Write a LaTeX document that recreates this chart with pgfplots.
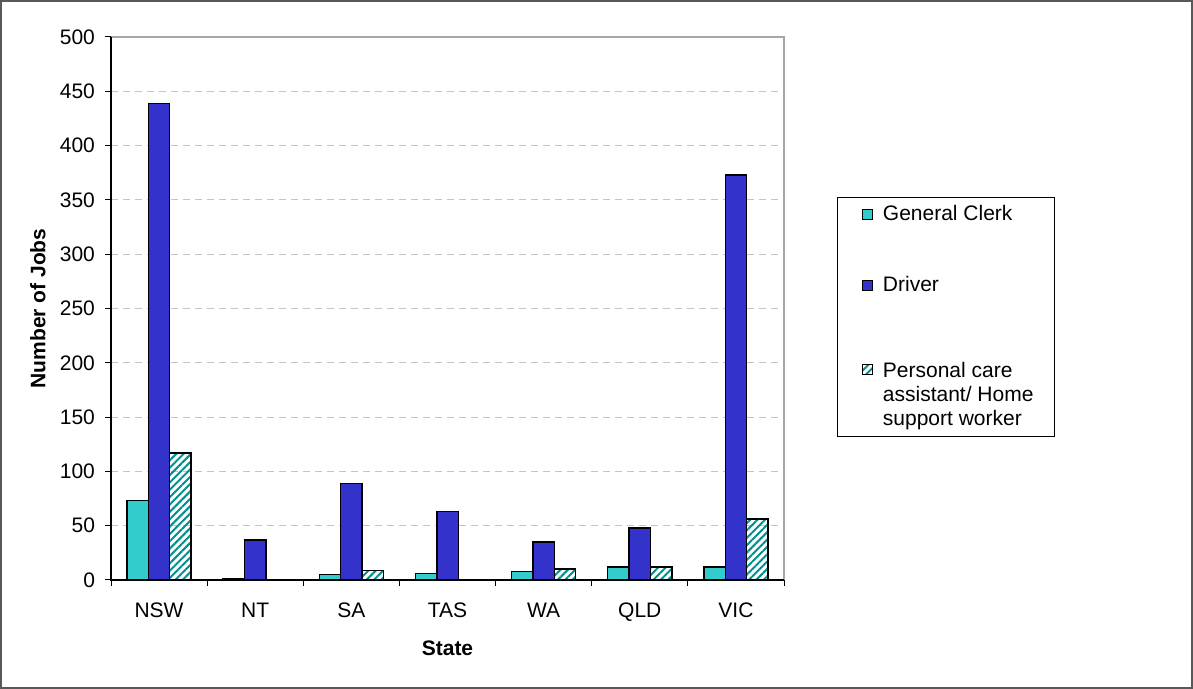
\documentclass[border=0pt]{standalone}
\usepackage{pgfplots}
\pgfplotsset{compat=1.18}
\usepackage{fontspec}
\setmainfont{Liberation Sans}
\usetikzlibrary{patterns.meta}

\definecolor{clerk}{HTML}{33CCCC}
\definecolor{driver}{HTML}{3333CC}
\definecolor{hatch}{HTML}{008F8F}
\definecolor{gridgray}{HTML}{C4C4C4}

% square marker lifted to the first line of a three-line entry
\pgfplotsset{pca legend/.style={legend image code/.code={
    \path (-3.5pt,-11.6pt) (5pt,11.6pt);
    \draw[##1, line width=0.5pt] (0pt,6.6pt) rectangle (5pt,11.6pt);}}}

\begin{document}
\begin{tikzpicture}
\useasboundingbox (0,0) rectangle (596.5pt,344.5pt);
\draw[line width=1pt, gray!70!black] (0.5pt,0.5pt) rectangle (596pt,344pt);
\begin{axis}[
    at={(55.5pt,54.5pt)}, anchor=south west,
    scale only axis,
    width=336.5pt, height=271.5pt,
    ybar=0pt,
    bar width=10.7pt,
    xmin=-0.5, xmax=6.5,
    ymin=0, ymax=500,
    ytick distance=50,
    xtick={0,...,6},
    xticklabels={NSW, NT, SA, TAS, WA, QLD, VIC},
    minor xtick={-0.5,0.5,...,6.5},
    xtick pos=lower, ytick pos=left,
    major x tick style={draw=none},
    tick align=outside,
    major tick length=3pt,
    minor tick length=3pt,
    tick style={black, line width=0.5pt},
    axis line style={draw=none},
    ymajorgrids=true,
    grid style={gridgray, line width=0.5pt, dash pattern=on 3.5pt off 2.5pt},
    /pgf/number format/assume math mode=true,
    tick label style={font=\fontsize{10.5}{13}\selectfont},
    xticklabel style={yshift=-5pt},
    yticklabel style={xshift=-1.5pt},
    ylabel={\textbf{Number of Jobs}},
    xlabel={\textbf{State}},
    ylabel style={at={(axis description cs:-0.1085,0.5)}, anchor=center, font=\fontsize{10.5}{13}\selectfont},
    xlabel style={at={(axis description cs:0.5,-0.1252)}, anchor=center, font=\fontsize{10.5}{13}\selectfont},
    every axis plot/.append style={draw=black, line width=0.7pt},
    legend image code/.code={
        \path (-3.5pt,0pt);
        \draw[#1, line width=0.5pt] (0pt,-2.5pt) rectangle (5pt,2.5pt);},
    legend style={at={(1.0788,0.7053)}, anchor=north west, draw=black, line width=0.5pt,
        font=\fontsize{10.5}{13}\selectfont, row sep=22.25pt, column sep=3pt,
        inner xsep=8.5pt, inner ysep=2pt,
        cells={anchor=west}},
    legend cell align=left,
]
\addplot[fill=clerk] coordinates {(0,73) (1,1) (2,5) (3,6) (4,8) (5,12) (6,12)};
\addplot[fill=driver] coordinates {(0,439) (1,37) (2,89) (3,63) (4,35) (5,48) (6,373)};
\addplot[pattern={Lines[angle=45,distance=2.6pt,line width=1pt]}, pattern color=hatch, pca legend]
    coordinates {(0,117) (2,9) (4,10) (5,12) (6,56)};
\addlegendentry{\parbox[b]{75.5pt}{General Clerk}}
\addlegendentry{\parbox[b]{75.5pt}{Driver}}
\addlegendentry{\parbox[b]{75.5pt}{\baselineskip=12pt\vspace*{7.75pt}Personal care\\assistant/ Home\\support worker}}
\end{axis}
\draw[gray!70, line width=1pt] (55.5pt,326pt) -- (392pt,326pt) -- (392pt,54.5pt);
\draw[black, line width=0.7pt] (55.5pt,326pt) -- (55.5pt,54.5pt) -- (392pt,54.5pt);
\end{tikzpicture}
\end{document}
